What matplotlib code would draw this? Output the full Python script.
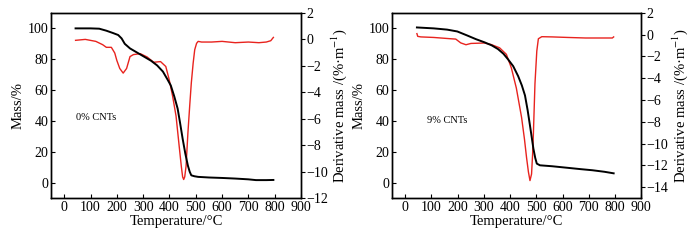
import matplotlib
matplotlib.use("Agg")
import matplotlib.pyplot as plt

plt.rcParams['font.family'] = ['Liberation Serif', 'DejaVu Serif']
plt.rcParams['mathtext.fontset'] = 'stix'

# 0% CNTs
t_mass_0 = [43, 100, 133, 160, 185, 205, 218, 230, 250, 270, 300, 330, 353, 375, 392, 405, 418, 431, 440, 450, 460, 470, 477, 483, 495, 509, 550, 600, 651, 700, 729, 768, 795]
mass_0 = [100, 100, 99.8, 98.5, 97, 95.7, 93.5, 90, 87, 85, 82, 79, 76, 72, 67, 63, 56, 48, 39, 28.5, 19, 11, 7, 4.7, 4.1, 3.7, 3.3, 3.0, 2.6, 2.1, 1.6, 1.6, 1.7]
t_dtg_0 = [43, 80, 120, 146, 160, 179, 192, 200, 211, 224, 237, 250, 263, 289, 315, 340, 366, 386, 399, 412, 425, 437, 445, 450, 454, 458, 463, 470, 477, 483, 490, 496, 503, 509, 522, 560, 600, 650, 700, 740, 768, 785, 795]
dtg_0 = [-0.07, 0.0, -0.15, -0.4, -0.6, -0.6, -1.03, -1.6, -2.2, -2.55, -2.2, -1.3, -1.15, -1.08, -1.33, -1.73, -1.68, -2.05, -3.05, -4.3, -5.8, -8.1, -9.6, -10.4, -10.6, -10.4, -9.6, -7.1, -5.0, -3.3, -1.8, -0.78, -0.3, -0.15, -0.2, -0.2, -0.15, -0.25, -0.2, -0.25, -0.2, -0.1, 0.15]

# 9% CNTs
t_mass_9 = [45, 109, 160, 199, 238, 270, 302, 330, 354, 375, 392, 412, 431, 445, 457, 467, 476, 483, 489, 496, 502, 514, 560, 624, 670, 714, 760, 795]
mass_9 = [100.6, 100, 99.2, 98, 95.3, 93, 91, 89, 86.6, 83.5, 80, 75.5, 69, 63, 56.5, 47, 37, 29, 22, 16, 12.3, 11.2, 10.6, 9.5, 8.7, 8, 7, 6]
t_dtg_9 = [45, 48, 60, 109, 174, 193, 212, 232, 251, 277, 302, 328, 360, 386, 405, 424, 444, 455, 463, 470, 476, 482, 486, 489, 495, 502, 508, 521, 560, 620, 688, 750, 790, 795]
dtg_9 = [0.1, -0.15, -0.2, -0.25, -0.37, -0.4, -0.75, -0.92, -0.8, -0.78, -0.76, -0.9, -1.2, -1.8, -3.05, -4.9, -7.6, -9.6, -11.3, -12.6, -13.4, -12.8, -11.0, -9.1, -4.5, -1.5, -0.37, -0.18, -0.2, -0.25, -0.3, -0.3, -0.3, -0.2]

panels = [
    (t_mass_0, mass_0, t_dtg_0, dtg_0, "0% CNTs", (43, 42), (-12, 2), [0.073, 0.175, 0.357, 0.771]),
    (t_mass_9, mass_9, t_dtg_9, dtg_9, "9% CNTs", (84, 40), (-15, 2), [0.560, 0.175, 0.356, 0.771]),
]

fig = plt.figure(figsize=(7, 2.4), dpi=100)
fs = 10

for tm, m, td, d, label, pos, rlim, rect in panels:
    ax = fig.add_axes(rect)
    ax2 = ax.twinx()
    ax.plot(tm, m, color='black', lw=1.4, zorder=3)
    ax2.plot(td, d, color='#e8231e', lw=1.0)
    ax.set_zorder(ax2.get_zorder() + 1)
    ax.patch.set_visible(False)
    ax.set_xlim(-50, 900)
    ax.set_ylim(-10, 110)
    ax2.set_ylim(*rlim)
    ax.set_xticks(range(0, 901, 100))
    ax.set_yticks(range(0, 101, 20))
    ax2.set_yticks(range(rlim[0] + (rlim[0] % 2), 3, 2))
    ax.tick_params(axis='both', direction='in', labelsize=fs, length=3, pad=2)
    ax2.tick_params(axis='y', direction='out', labelsize=fs, length=3, pad=1)
    ax.set_xlabel("Temperature/°C", fontsize=fs + 0.5, labelpad=1)
    ax.set_ylabel("Mass/%", fontsize=fs + 0.5, labelpad=2)
    ax2.set_ylabel("Derivative mass /(%·m$^{-1}$)", fontsize=fs + 0.5, labelpad=1)
    ax.text(pos[0], pos[1], label, fontsize=7.5, va='center', ha='left')
    for a in (ax, ax2):
        for s in a.spines.values():
            s.set_linewidth(1.0)

fig.savefig("out.png", dpi=100)
